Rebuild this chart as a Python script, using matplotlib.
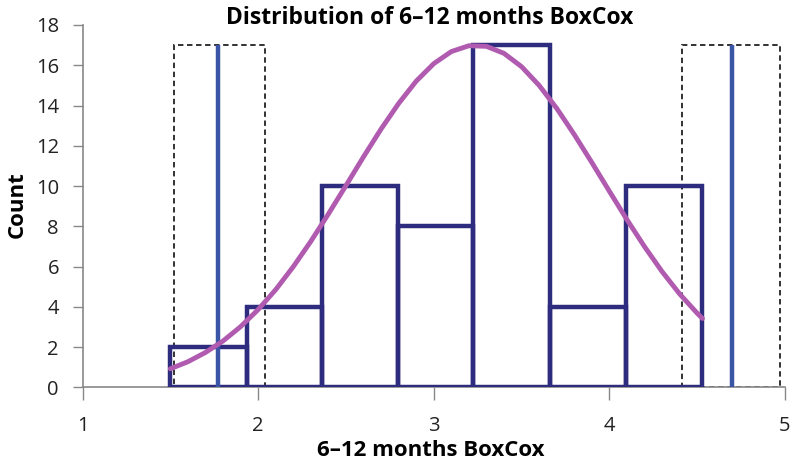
import matplotlib
matplotlib.use("Agg")
import matplotlib.pyplot as plt

# ---- data ----
bin_edges = [1.496, 1.935, 2.363, 2.795, 3.223, 3.664, 4.094, 4.525]
counts = [2, 4, 10, 8, 17, 4, 10]

curve_x = [1.5, 1.6, 1.7, 1.8, 1.9, 2.0, 2.1, 2.2, 2.3, 2.4, 2.5, 2.6, 2.7, 2.8,
           2.9, 3.0, 3.1, 3.2, 3.3, 3.4, 3.5, 3.6, 3.7, 3.8, 3.9, 4.0, 4.1, 4.2,
           4.3, 4.4, 4.5, 4.53]
curve_y = [0.92, 1.27, 1.73, 2.30, 3.01, 3.86, 4.85, 5.99, 7.25, 8.61, 10.02,
           11.45, 12.83, 14.10, 15.21, 16.08, 16.68, 16.97, 16.94, 16.59, 15.93,
           15.00, 13.86, 12.56, 11.17, 9.74, 8.33, 6.99, 5.75, 4.64, 3.68, 3.42]

blue_lines = [1.774, 4.697]
dashed_boxes = [(1.521, 2.038), (4.415, 4.972)]
marker_height = 17

xticks = [1, 2, 3, 4, 5]
yticks = list(range(0, 19, 2))
title = "Distribution of 6\u201312 months BoxCox"
xlabel = "6\u201312 months BoxCox"
ylabel = "Count"

plt.rcParams['font.family'] = ['Open Sans', 'DejaVu Sans']

W, H = 790, 470
fig = plt.figure(figsize=(W / 100, H / 100), dpi=100)
ax_left, ax_right, ax_top, ax_bottom = 82.5, 785, 25, 387.3
ax = fig.add_axes([ax_left / W, 1 - ax_bottom / H,
                   (ax_right - ax_left) / W, (ax_bottom - ax_top) / H])

# dashed boxes
for (a, b) in dashed_boxes:
    ax.bar(a, marker_height, width=b - a, align='edge', fill=False,
           edgecolor='#222222', linestyle=(0, (3, 2)), linewidth=1.3, zorder=2)

# histogram bars (outlined)
lefts = bin_edges[:-1]
widths = [bin_edges[i + 1] - bin_edges[i] for i in range(len(counts))]
ax.bar(lefts, counts, width=widths, align='edge', fill=False,
       edgecolor='#2E2C7E', linewidth=3.2, zorder=3)

# blue vertical lines
ax.vlines(blue_lines, 0, marker_height, colors='#3A55A6', linewidth=3.2, zorder=4)

# normal curve
ax.plot(curve_x, curve_y, color='#B05BB0', linewidth=3.5, zorder=5,
        solid_capstyle='round')

ax.set_xlim(1, 5)
ax.set_ylim(0, 18)
ax.set_xticks(xticks)
ax.set_yticks(yticks)
ax.tick_params(axis='both', labelsize=14.5, colors='#222222', direction='out')
ax.tick_params(axis='x', length=9, width=1, color='#888888', pad=12)
ax.tick_params(axis='y', length=7, width=1, color='#888888', pad=10)
for s in ['top', 'right']:
    ax.spines[s].set_visible(False)
for s in ['left', 'bottom']:
    ax.spines[s].set_color('#888888')
    ax.spines[s].set_linewidth(1.2)

fig.text(430 / W, 1 - 18 / H, title, fontsize=16.5, fontweight='bold',
         ha='center', va='center')
fig.text(431 / W, 1 - 450 / H, xlabel, fontsize=16, fontweight='bold',
         ha='center', va='center')
fig.text(17 / W, 1 - 205 / H, ylabel, fontsize=16, fontweight='bold',
         ha='center', va='center', rotation=90)

fig.savefig("out.png", dpi=100)
